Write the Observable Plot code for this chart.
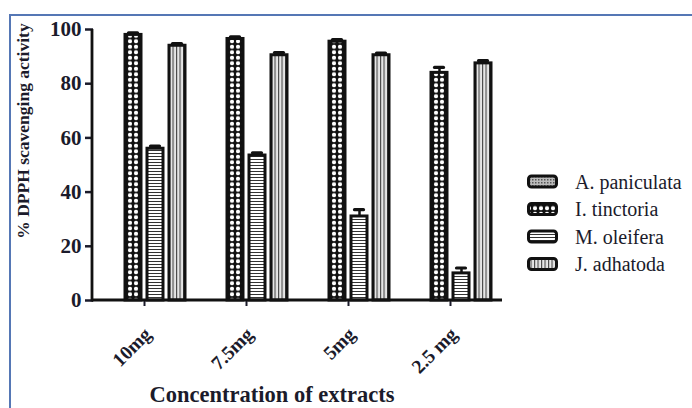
<!DOCTYPE html>
<html>
<head>
<meta charset="utf-8">
<script src="https://cdn.jsdelivr.net/npm/d3@7"></script>
<script src="https://cdn.jsdelivr.net/npm/@observablehq/plot@0.6"></script>
<style>
  html, body { margin: 0; padding: 0; background: #fff; }
  #wrap { position: relative; width: 692px; height: 408px; overflow: hidden; background: #fff; }
  #border { position: absolute; left: 9px; top: 14px; width: 700px; height: 420px;
            border-left: 2px solid #5577b5; border-top: 2px solid #5577b5; }
  #chart { position: absolute; left: 0; top: 0; }
  .ttl { position: absolute; font-family: "Liberation Serif", "DejaVu Serif", serif; font-weight: bold;
         color: #1b1b2b; white-space: nowrap; }
  #ylab { left: 23px; top: 131px; font-size: 17.5px; transform: translate(-50%, -50%) rotate(-90deg); }
  #xlab { left: 272px; top: 395px; font-size: 22.5px; transform: translate(-50%, -50%); }
  #legend { position: absolute; left: 520px; top: 167px; }
</style>
</head>
<body>
<div id="wrap">
  <div id="border"></div>
  <div id="chart"></div>
  <div class="ttl" id="ylab">% DPPH scavenging activity</div>
  <div class="ttl" id="xlab">Concentration of extracts</div>
  <div id="legend"></div>
</div>
<script>
// ---- data ----
const concentrations = ["10mg", "7.5mg", "5mg", "2.5 mg"];
const series = ["A. paniculata", "I. tinctoria", "M. oleifera", "J. adhatoda"];
const aPaniculata = [null, null, null, null];
const iTinctoria = [98, 96.5, 95.5, 84];
const iTinctoriaErr = [0.8, 0.8, 0.8, 2];
const mOleifera = [56, 53.5, 31, 10];
const mOleiferaErr = [1, 1, 2.5, 2];
const jAdhatoda = [94, 90.5, 90.5, 87.5];
const jAdhatodaErr = [0.8, 1, 0.8, 1];
const yTicks = [0, 20, 40, 60, 80, 100];

const valuesBySeries = [aPaniculata, iTinctoria, mOleifera, jAdhatoda];
const errBySeries = [[null, null, null, null], iTinctoriaErr, mOleiferaErr, jAdhatodaErr];
const rows = [];
series.forEach((s, si) => concentrations.forEach((c, ci) => {
  const v = valuesBySeries[si][ci];
  if (v != null) rows.push({conc: c, series: s, value: v, hi: v + errBySeries[si][ci]});
}));

const patternIds = ["pA", "pI", "pM", "pJ"];
const patternUrls = patternIds.map(id => `url(#${id})`);
const FONT = '"Liberation Serif", "DejaVu Serif", serif';

const defsMarkup = `
  <pattern id="pA" width="3" height="3" patternUnits="userSpaceOnUse">
    <rect width="3" height="3" fill="#bbb"/><rect width="1.5" height="1.5" fill="#555"/>
  </pattern>
  <pattern id="pI" width="6" height="5.5" patternUnits="userSpaceOnUse">
    <rect width="6" height="5.5" fill="#111"/>
    <circle cx="3" cy="2.75" r="2.1" fill="#fff"/>
  </pattern>
  <pattern id="pM" width="4" height="3" patternUnits="userSpaceOnUse">
    <rect width="4" height="3" fill="#fff"/><rect y="0" width="4" height="1" fill="#333"/>
  </pattern>
  <pattern id="pJ" width="3.5" height="4" patternUnits="userSpaceOnUse">
    <rect width="3.5" height="4" fill="#e6e6e6"/><rect x="0" width="1.1" height="4" fill="#444"/>
  </pattern>`;

const plot = Plot.plot({
  width: 692,
  height: 408,
  marginLeft: 92,
  marginRight: 190,
  marginTop: 29,
  marginBottom: 108,
  style: {background: "transparent", fontFamily: FONT, color: "#1b1b2b"},
  fx: {domain: concentrations, padding: 0, label: null},
  x: {domain: series, paddingInner: 0.27, paddingOuter: 0.42, axis: null},
  y: {domain: [0, 100], label: null},
  color: {domain: series, range: patternUrls},
  marks: [
    Plot.barY(rows, {fx: "conc", x: "series", y: "value", fill: "series",
      stroke: "#111", strokeWidth: 3}),
    Plot.ruleX(rows, {fx: "conc", x: "series", y1: "value", y2: "hi", stroke: "#111", strokeWidth: 2.5}),
    Plot.tickY(rows, {fx: "conc", x: "series", y: "hi", stroke: "#111", strokeWidth: 3.2,
      strokeLinecap: "round", insetLeft: 3.5, insetRight: 3.5}),
    Plot.axisY({ticks: yTicks, tickSize: 8, tickPadding: 4, strokeWidth: 2.5,
      fontSize: 21, fontWeight: "bold", label: null, fill: "#1b1b2b"}),
    Plot.axisFx({anchor: "bottom", tickSize: 6, strokeWidth: 2, tickFormat: () => "", label: null}),
    Plot.text(concentrations, {fx: d => d, text: d => d, frameAnchor: "bottom",
      rotate: -45, textAnchor: "end", lineAnchor: "bottom", dx: 8, dy: 35,
      fontSize: 19.5, fontWeight: "bold", fill: "#1b1b2b", facet: "include"})
  ]
});

// defs + axis lines via the plot's own scales
const svg = d3.select(plot);
svg.insert("defs", ":first-child").html(defsMarkup);
const y = plot.scale("y"), fx = plot.scale("fx");
const x0 = fx.range[0], x1 = fx.range[1];
svg.append("line").attr("x1", x0).attr("x2", x1).attr("y1", y.apply(0)).attr("y2", y.apply(0))
  .attr("stroke", "#111").attr("stroke-width", 2.8);
svg.append("line").attr("x1", x0).attr("x2", x0).attr("y1", y.apply(0) + 1.4).attr("y2", y.apply(100))
  .attr("stroke", "#111").attr("stroke-width", 2.8);
document.getElementById("chart").appendChild(plot);

// legend
const lg = d3.select("#legend").append("svg").attr("width", 172).attr("height", 110)
  .style("overflow", "visible");
lg.append("defs").html(defsMarkup.replace(/id="p/g, 'id="L'));
series.forEach((s, i) => {
  const g = lg.append("g").attr("transform", `translate(0, ${i * 27.5})`);
  g.append("rect").attr("x", 8.5).attr("y", 9).attr("width", 28).attr("height", 11).attr("rx", 3)
    .attr("fill", `url(#L${patternIds[i].slice(1)})`).attr("stroke", "#111").attr("stroke-width", 3);
  g.append("text").attr("x", 55).attr("y", 14.5).attr("dy", "0.35em").text(s)
    .style("font-family", FONT).style("font-size", "20px").attr("fill", "#1b1b2b");
});
</script>
</body>
</html>
